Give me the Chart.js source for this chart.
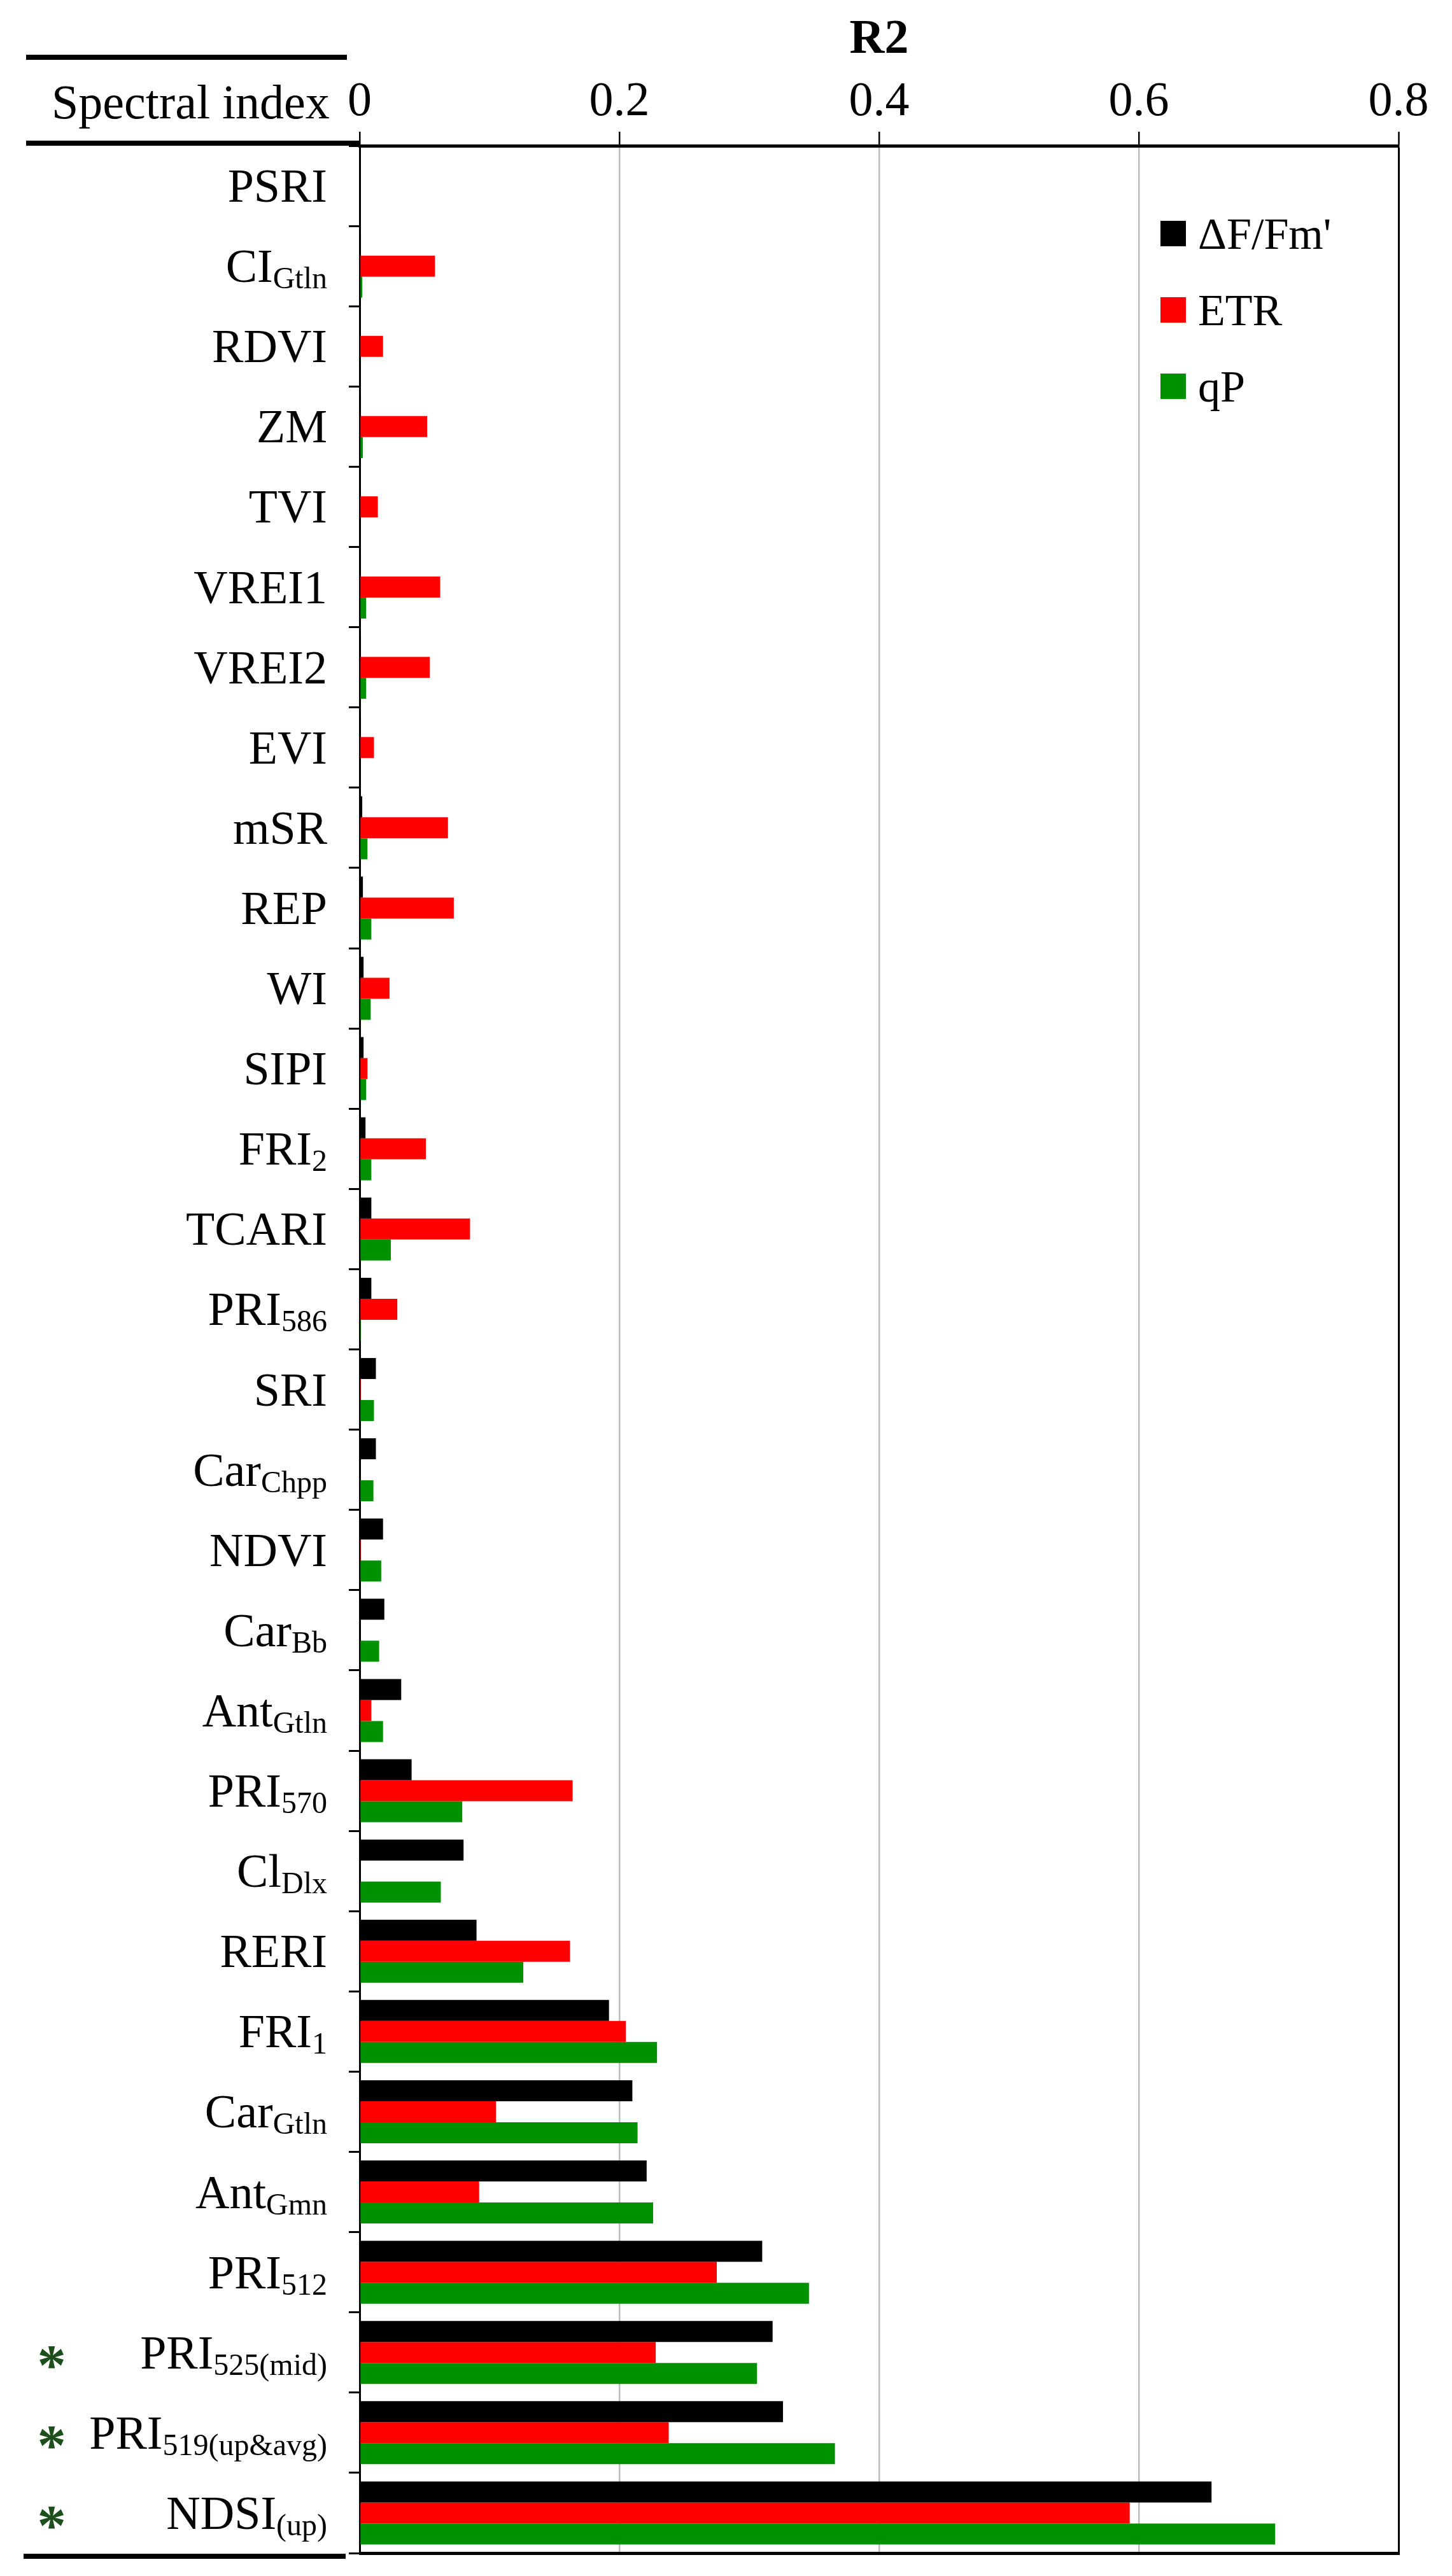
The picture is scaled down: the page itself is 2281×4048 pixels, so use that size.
<!DOCTYPE html>
<html>
<head>
<meta charset="utf-8">
<script src="https://cdn.jsdelivr.net/npm/chart.js@4.4.1/dist/chart.umd.min.js"></script>
<style>
  html, body { margin: 0; padding: 0; background: #fff; }
  #wrap { width: 2281px; height: 4048px; }
</style>
</head>
<body>
<div id="wrap"><canvas id="chart-r2" width="2281" height="4048"></canvas></div>
<script>
// spectral indices, top to bottom: main name + subscript
const indexNames = ['PSRI', 'CI', 'RDVI', 'ZM', 'TVI', 'VREI1', 'VREI2', 'EVI', 'mSR', 'REP',
  'WI', 'SIPI', 'FRI', 'TCARI', 'PRI', 'SRI', 'Car', 'NDVI', 'Car', 'Ant',
  'PRI', 'Cl', 'RERI', 'FRI', 'Car', 'Ant', 'PRI', 'PRI', 'PRI', 'NDSI'];
const indexSubs = ['', 'Gtln', '', '', '', '', '', '', '', '',
  '', '', '2', '', '586', '', 'Chpp', '', 'Bb', 'Gtln',
  '570', 'Dlx', '', '1', 'Gtln', 'Gmn', '512', '525(mid)', '519(up&avg)', '(up)'];
const starred = ['PRI525(mid)', 'PRI519(up&avg)', 'NDSI(up)'];

const labels = indexNames.map((n, i) => n + indexSubs[i]);

// R2 per parameter
const dfFm = [0, 0.001, 0, 0.001, 0, 0.001, 0.001, 0.001, 0.002, 0.0025,
  0.003, 0.003, 0.0045, 0.009, 0.009, 0.0125, 0.0125, 0.018, 0.019, 0.032,
  0.040, 0.080, 0.090, 0.192, 0.210, 0.221, 0.310, 0.318, 0.326, 0.656];
const etr = [0, 0.058, 0.018, 0.052, 0.014, 0.062, 0.054, 0.011, 0.068, 0.0725,
  0.023, 0.006, 0.051, 0.085, 0.029, 0.001, 0, 0.001, 0, 0.009,
  0.164, 0, 0.162, 0.205, 0.105, 0.092, 0.275, 0.228, 0.238, 0.593];
const qp = [0, 0.002, 0, 0.0025, 0, 0.005, 0.005, 0, 0.006, 0.009,
  0.0085, 0.005, 0.009, 0.024, 0.001, 0.011, 0.0106, 0.0166, 0.015, 0.018,
  0.079, 0.0625, 0.126, 0.229, 0.214, 0.226, 0.346, 0.306, 0.366, 0.705];

const xMin = 0;
const xMax = 0.8;
const xStep = 0.2;

const serif = "'Liberation Serif', 'Times New Roman', serif";

// star sized and centred from its real glyph box
function drawStar(ctx, cx, cy) {
  ctx.font = 'bold 100px ' + serif;
  let m = ctx.measureText('*');
  const w = m.actualBoundingBoxLeft + m.actualBoundingBoxRight;
  const size = 100 * 38 / w;
  ctx.font = 'bold ' + size + 'px ' + serif;
  m = ctx.measureText('*');
  const base = cy - (m.actualBoundingBoxDescent - m.actualBoundingBoxAscent) / 2;
  ctx.textAlign = 'center';
  ctx.fillText('*', cx, base);
  ctx.textAlign = 'left';
}

// table rules, category labels with subscripts, stars and legend
const tableDecor = {
  id: 'tableDecor',
  afterDraw(chart) {
    const {ctx, chartArea: area, scales: {y}} = chart;
    ctx.save();
    ctx.fillStyle = '#000';
    ctx.fillRect(41, 86, 504, 8);
    ctx.fillRect(41, 221, area.left - 41, 8);
    ctx.fillRect(37, area.bottom + 1, 506, 8);
    ctx.fillRect(area.left - 1, area.bottom - 2, area.right - area.left + 3, 5);

    ctx.textAlign = 'left';
    ctx.textBaseline = 'alphabetic';
    ctx.font = '76px ' + serif;
    ctx.fillText('Spectral index', 81, 186);

    indexNames.forEach((name, i) => {
      const cy = y.getPixelForValue(i);
      const base = cy + 25;
      const sub = indexSubs[i];
      ctx.font = '74px ' + serif;
      const mw = ctx.measureText(name).width;
      ctx.font = '48px ' + serif;
      const sw = sub ? ctx.measureText(sub).width : 0;
      const x0 = 514 - sw - mw;
      ctx.fillStyle = '#000';
      ctx.font = '74px ' + serif;
      ctx.fillText(name, x0, base);
      if (sub) {
        ctx.font = '48px ' + serif;
        ctx.fillText(sub, x0 + mw, base + 10);
      }
      if (starred.includes(labels[i])) {
        ctx.fillStyle = '#1c4f1c';
        drawStar(ctx, 81, cy + 8);
      }
    });

    // legend
    const legendTop = 367;
    chart.data.datasets.forEach((ds, i) => {
      const cy = legendTop + i * 120;
      ctx.fillStyle = ds.backgroundColor;
      ctx.fillRect(1823, cy - 20, 40, 40);
      ctx.fillStyle = '#000';
      ctx.font = '70px ' + serif;
      ctx.fillText(ds.label, 1882, cy + 24);
    });
    ctx.restore();
  }
};

new Chart(document.getElementById('chart-r2'), {
  type: 'bar',
  data: {
    labels: labels,
    datasets: [
      {label: '\u0394F/Fm\'', data: dfFm, backgroundColor: '#000000'},
      {label: 'ETR', data: etr, backgroundColor: '#ff0000'},
      {label: 'qP', data: qp, backgroundColor: '#009100'}
    ]
  },
  options: {
    indexAxis: 'y',
    responsive: false,
    animation: false,
    devicePixelRatio: 1,
    barPercentage: 1.0,
    categoryPercentage: 0.785,
    layout: {padding: {left: 0, top: 0, right: 84, bottom: 36}},
    plugins: {
      legend: {display: false},
      tooltip: {enabled: false}
    },
    scales: {
      x: {
        position: 'top',
        min: xMin,
        max: xMax,
        afterFit(scale) { scale.height = 229; },
        ticks: {
          stepSize: xStep,
          padding: 0,
          color: '#000',
          font: {family: serif, size: 76},
          callback: (v) => Number(v.toFixed(1)).toString()
        },
        grid: {
          color: (c) => c.tick && Math.abs(c.tick.value - xMax) < 1e-9 ? '#000' : (c.tick && c.tick.value === 0 ? 'rgba(0,0,0,0)' : '#bdbdbd'),
          lineWidth: (c) => c.tick && Math.abs(c.tick.value - xMax) < 1e-9 ? 3 : 2.5,
          tickColor: '#000',
          tickLength: 22,
          tickWidth: 2.5
        },
        border: {color: '#000', width: 5},
        title: {
          display: true,
          text: 'R2',
          color: '#000',
          padding: {top: 18, bottom: 0},
          font: {family: serif, size: 76, weight: 'bold'}
        }
      },
      y: {
        afterFit(scale) { scale.width = 565; },
        ticks: {display: false},
        grid: {
          drawOnChartArea: false,
          tickColor: '#000',
          tickLength: 17,
          tickWidth: 3
        },
        border: {color: '#000', width: 3}
      }
    }
  },
  plugins: [tableDecor]
});
</script>
</body>
</html>
